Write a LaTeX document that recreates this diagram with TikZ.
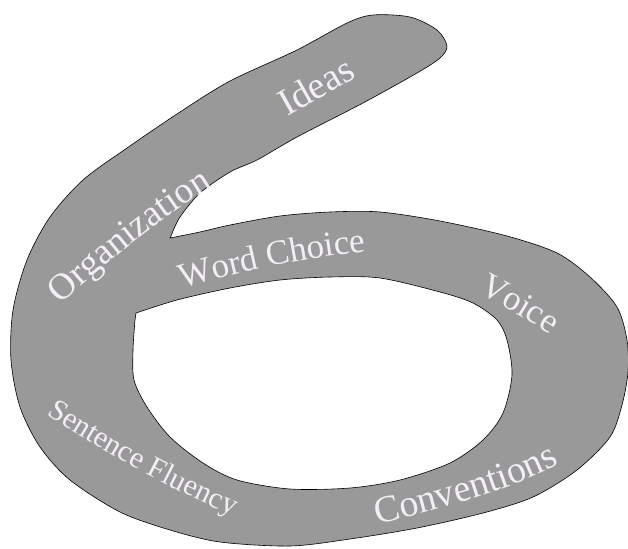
\documentclass[tikz,border=0pt]{standalone}
\usepackage{fontspec}
\setmainfont{Liberation Serif}
\usetikzlibrary{decorations.text}
\definecolor{bandgray}{RGB}{153,153,153}
\definecolor{lettering}{RGB}{244,238,246}

\begin{document}
\begin{tikzpicture}[x=1pt, y=-1pt,
		traittext/.style={decorate, decoration={text along path,
			text align=center, text color=lettering, text={#1}}}]
		\useasboundingbox (0,0) rectangle (628,548);

		% the six: outer outline, then the hole of its loop
		\draw[fill=bandgray, even odd rule, line width=0.6pt]
			plot[smooth] coordinates {(170,238) (200,232) (230,225) (280,216)
				(330,212) (380,212) (440,221) (507,236) (557,253) (590,277)
				(617,307) (627,340) (628,372) (622,405) (610,437) (577,470)
				(533,497) (483,513) (417,528) (350,539) (290,546) (220,542)
				(170,530) (120,512) (70,480) (40,447) (20,407) (11,360)
				(13,310) (27,260) (50,217) (83,180) (127,148) (180,112)
				(230,81) (297,50) (347,23) (373,15) (410,17) (437,30)
				(447,46) (440,58) (417,73) (363,103) (297,137) (257,160)
				(230,172) (200,193) (180,217) (171,236)} -- cycle
			plot[smooth] coordinates {(136,313) (177,300) (230,288) (280,280)
				(330,277) (380,278) (440,292) (473,303) (497,320) (507,340)
				(512,375) (503,413) (483,440) (450,463) (400,480) (350,488)
				(290,489) (237,480) (203,463) (170,437) (147,407) (134,380)
				(133,350) (135,320)} -- cycle;

		% the six traits, written along the band
		\path[traittext={|\fontsize{38}{38}\selectfont|Ideas}]
			(262,131) -- (382,63);
		\path[traittext={|\fontsize{37}{37}\selectfont|Organization}]
			(56,309) .. controls (101,267) and (161,217) .. (218,183);
		\path[traittext={|\fontsize{35}{35}\selectfont|Word Choice}]
			(165,295) .. controls (220,275) and (310,255) .. (385,250);
		\path[traittext={|\fontsize{35}{35}\selectfont|Voice}]
			(461,283) .. controls (486,296) and (541,326) .. (566,346);
		\path[traittext={|\fontsize{30}{30}\selectfont|Sentence Fluency}]
			(39,409) .. controls (91,445) and (169,489) .. (241,519);
		\path[traittext={|\fontsize{38}{38}\selectfont|Conventions}]
			(360,528) .. controls (420,515) and (520,490) .. (575,455);
	\end{tikzpicture}
\end{document}
